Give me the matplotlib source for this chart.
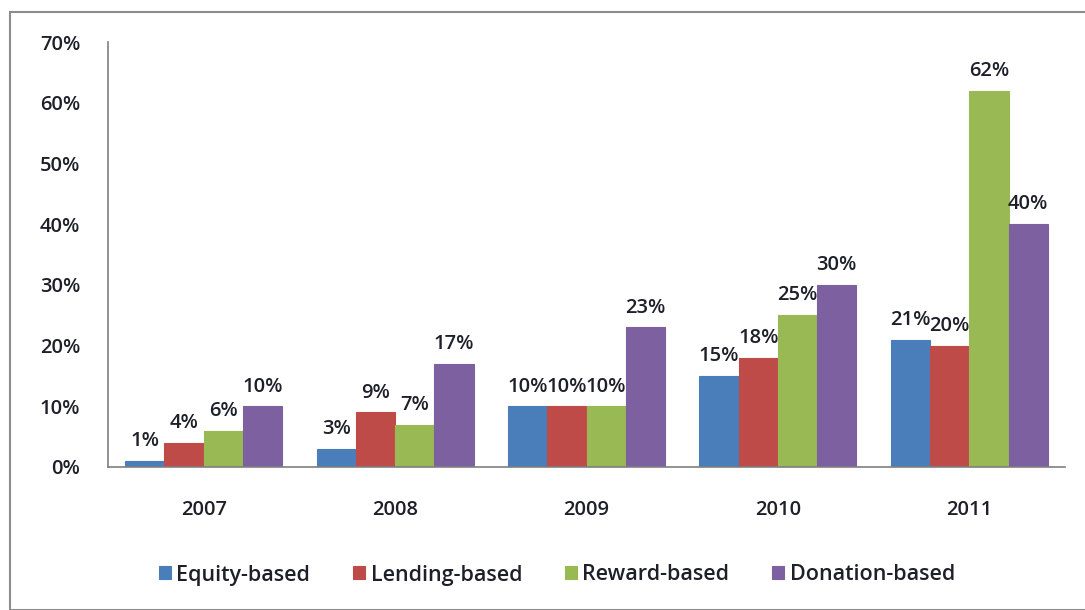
import matplotlib
matplotlib.use("Agg")
import matplotlib.pyplot as plt
from matplotlib.patches import Rectangle
import numpy as np

plt.rcParams['font.family'] = ['Open Sans', 'DejaVu Sans']

years = ["2007", "2008", "2009", "2010", "2011"]
series_names = ["Equity-based", "Lending-based", "Reward-based", "Donation-based"]
equity = [1, 3, 10, 15, 21]
lending = [4, 9, 10, 18, 20]
reward = [6, 7, 10, 25, 62]
donation = [10, 17, 23, 30, 40]
yticks = [0, 10, 20, 30, 40, 50, 60, 70]

colors = ["#4A7EBB", "#BE4B48", "#98B954", "#7D60A0"]
data = [equity, lending, reward, donation]
FS = 14.5
TC = "#1f1f2a"

fig = plt.figure(figsize=(10.85, 6.10), dpi=100)
fig.patches.append(Rectangle((10/1085, 0.0), 1.2, (610-12)/610, transform=fig.transFigure,
                             fill=False, edgecolor="#8c8c8c", linewidth=1.5))
ax = fig.add_axes([108/1085, 1-467/610, (1065-108)/1085, (467-42)/610])

x = np.arange(len(years))
w = 0.205
for i, (vals, c) in enumerate(zip(data, colors)):
    pos = x + (i - 1.5) * w
    bars = ax.bar(pos, vals, w, color=c, edgecolor=c, linewidth=0.8, label=series_names[i], zorder=2)
    for b, v in zip(bars, vals):
        ax.annotate(f"{v}%", (b.get_x() + b.get_width()/2, v), xytext=(0, 7),
                    textcoords="offset points", ha="center", va="bottom",
                    fontsize=FS, color=TC, fontweight="semibold")

ax.set_xlim(-0.5, len(years) - 0.5)
ax.set_ylim(0, 70)
ax.set_yticks(yticks)
ax.set_yticklabels([f"{t}%" for t in yticks], fontsize=FS, color=TC, fontweight="semibold")
ax.set_xticks(x)
ax.set_xticklabels(years, fontsize=FS, color=TC, fontweight="semibold")
ax.tick_params(axis="both", length=0)
ax.tick_params(axis="y", pad=20)
ax.tick_params(axis="x", pad=24)
for s in ["top", "right"]:
    ax.spines[s].set_visible(False)
ax.spines["left"].set_color("#7f7f7f")
ax.spines["bottom"].set_color("#7f7f7f")
ax.spines["left"].set_linewidth(1.2)
ax.spines["bottom"].set_linewidth(1.2)

leg = fig.legend(loc="center", bbox_to_anchor=(557/1085, 1-575/610), ncol=4, frameon=False,
                 prop={"size": 15.5, "weight": "semibold"},
                 handlelength=0.55, handleheight=0.55, handletextpad=0.25,
                 columnspacing=2.0)
for t in leg.get_texts():
    t.set_color(TC)

fig.savefig("out.png", dpi=100)
